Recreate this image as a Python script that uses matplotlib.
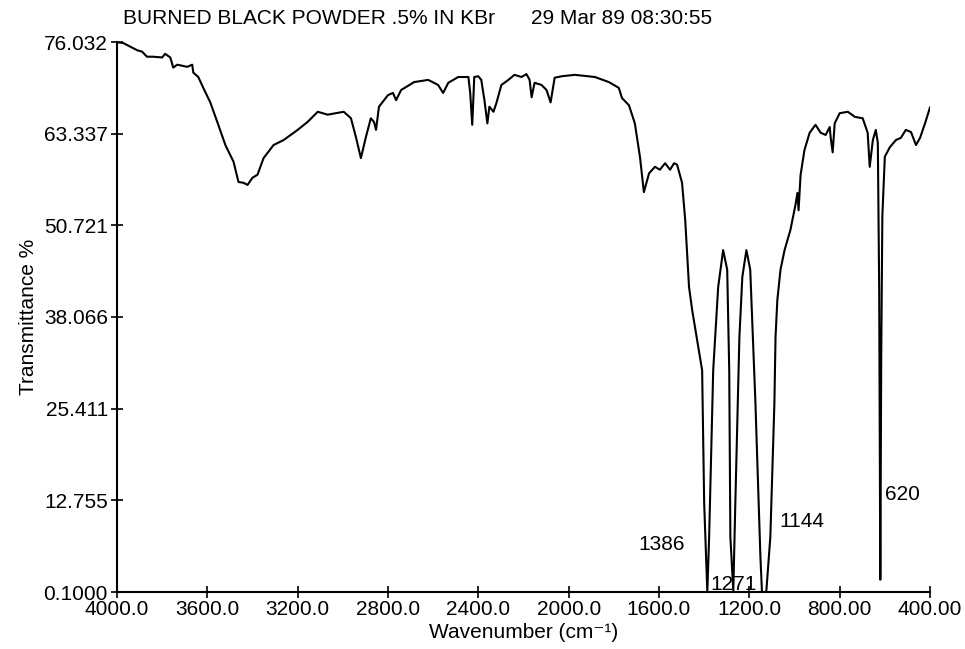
import matplotlib
matplotlib.use('Agg')
import matplotlib.pyplot as plt

plt.rcParams['font.family'] = ['Liberation Sans', 'DejaVu Sans']

# IR spectrum (wavenumber cm-1, transmittance %)
wavenumber = [4000, 3973, 3911, 3889, 3867, 3840, 3800, 3787, 3764, 3751,
              3733, 3689, 3667, 3662, 3640, 3618, 3587, 3556, 3520, 3484,
              3462, 3440, 3422, 3400, 3378, 3351, 3307, 3262, 3200, 3156,
              3111, 3067, 2996, 2964, 2942, 2920, 2898, 2876, 2862, 2853,
              2840, 2800, 2778, 2764, 2742, 2684, 2622, 2578, 2556, 2533,
              2489, 2444, 2436, 2427, 2418, 2400, 2387, 2373, 2360, 2351,
              2333, 2320, 2298, 2267, 2240, 2209, 2187, 2173, 2164, 2151,
              2120, 2098, 2080, 2062, 2031, 1973, 1884, 1822, 1778, 1764,
              1733, 1707, 1684, 1667, 1644, 1618, 1596, 1573, 1551, 1533,
              1520, 1498, 1484, 1467, 1453, 1422, 1409, 1400, 1386, 1378,
              1360, 1338, 1316, 1298, 1289, 1284, 1271, 1262, 1244, 1231,
              1213, 1196, 1173, 1151, 1144, 1125, 1107, 1089, 1084, 1076,
              1062, 1044, 1018, 996, 987, 982, 973, 956, 933, 907,
              884, 862, 844, 840, 831, 822, 800, 764, 733, 698,
              676, 667, 653, 640, 631, 625, 620, 616, 611, 600,
              578, 551, 529, 507, 484, 462, 444, 422, 400]
transmittance = [76.0, 75.9, 74.9, 74.7, 74.0, 74.0, 73.9, 74.4, 73.9, 72.5,
                 72.9, 72.6, 72.9, 71.8, 71.2, 69.7, 67.7, 65.0, 61.8, 59.5,
                 56.7, 56.6, 56.3, 57.3, 57.7, 60.0, 61.8, 62.5, 63.9, 65.0,
                 66.4, 66.0, 66.4, 65.5, 62.9, 60.0, 62.9, 65.5, 65.0, 63.9,
                 67.1, 68.7, 69.0, 68.0, 69.4, 70.5, 70.8, 70.1, 69.0, 70.4,
                 71.2, 71.2, 69.0, 64.6, 71.2, 71.3, 70.8, 68.0, 64.8, 67.1,
                 66.4, 67.6, 70.1, 70.8, 71.5, 71.2, 71.6, 70.8, 68.4, 70.4,
                 70.1, 69.4, 67.7, 71.1, 71.3, 71.5, 71.2, 70.5, 69.7, 68.3,
                 67.3, 64.8, 60.1, 55.3, 57.9, 58.8, 58.4, 59.3, 58.4, 59.3,
                 59.1, 56.6, 51.5, 42.2, 39.0, 33.1, 30.7, 12.4, 0.1, 7.7,
                 30.7, 42.2, 47.3, 44.6, 30.7, 7.7, 0.3, 12.4, 35.3, 43.6,
                 47.3, 44.6, 26.2, 5.0, 0.1, 0.1, 7.7, 26.2, 35.3, 40.4,
                 44.6, 47.3, 50.1, 53.5, 55.2, 52.8, 57.7, 61.1, 63.5, 64.6,
                 63.5, 63.2, 64.3, 62.9, 60.8, 64.8, 66.2, 66.4, 65.7, 65.5,
                 63.5, 58.8, 62.5, 63.9, 62.1, 41.8, 1.8, 32.5, 52.0, 60.2,
                 61.5, 62.5, 62.8, 63.9, 63.6, 61.8, 62.8, 64.8, 67.0]

x_ticks = [4000, 3600, 3200, 2800, 2400, 2000, 1600, 1200, 800, 400]
x_labels = ['4000.0', '3600.0', '3200.0', '2800.0', '2400.0', '2000.0',
            '1600.0', '1200.0', '800.00', '400.00']
y_ticks = [0.1, 12.755, 25.411, 38.066, 50.721, 63.337, 76.032]
y_labels = ['0.1000', '12.755', '25.411', '38.066', '50.721', '63.337', '76.032']

fs = 15

fig = plt.figure(figsize=(9.65, 6.49), dpi=100)
ax = fig.add_axes([117/965, 1-592/649, (930-117)/965, (592-42)/649])
ax.plot(wavenumber, transmittance, color='black', lw=1.5)

ax.set_xlim(4000, 400)
ax.set_ylim(0.1, 76.032)
ax.set_xticks(x_ticks)
ax.set_xticklabels(x_labels)
ax.set_yticks(y_ticks)
ax.set_yticklabels(y_labels)
ax.tick_params(direction='inout', length=9, width=1.2, labelsize=fs, colors='black')
ax.tick_params(axis='x', pad=1)
ax.tick_params(axis='y', pad=2)
for s in ['top', 'right']:
    ax.spines[s].set_visible(False)
for s in ['left', 'bottom']:
    ax.spines[s].set_linewidth(1.5)

ax.set_xlabel('Wavenumber (cm\u207b\u00b9)', fontsize=fs, labelpad=3)
ax.set_ylabel('Transmittance %', fontsize=fs, labelpad=4)

# peak labels
ax.text(1587, 6.6, '1386', fontsize=fs, ha='center', va='center')
ax.text(1271, 1.1, '1271', fontsize=fs, ha='center', va='center')
ax.text(1067, 9.8, '1144', fontsize=fs, ha='left', va='center')
ax.text(600, 13.6, '620', fontsize=fs, ha='left', va='center')

fig.text(123/965, 1-19/649, 'BURNED BLACK POWDER .5% IN KBr', fontsize=fs, ha='left', va='center')
fig.text(531/965, 1-19/649, '29 Mar 89 08:30:55', fontsize=fs, ha='left', va='center')

fig.savefig('out.png', dpi=100)
